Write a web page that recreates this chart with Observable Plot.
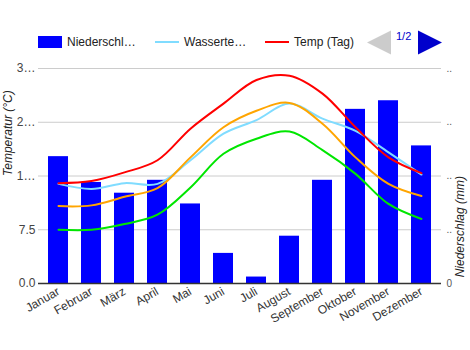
<!DOCTYPE html>
<html><head><meta charset="utf-8">
<script src="https://cdn.jsdelivr.net/npm/d3@7"></script>
<script src="https://cdn.jsdelivr.net/npm/@observablehq/plot@0.6"></script>
<style>
body{margin:0;background:#fff;font-family:"Liberation Sans",Arial,sans-serif;}
#wrap{position:relative;width:470px;height:350px;overflow:hidden;}
#legend{position:relative;height:60px;font-size:12px;color:#222;}
#legend .it{position:absolute;top:36px;height:12px;line-height:12px;white-space:nowrap;}
#legend svg{position:absolute;}
#chart svg{display:block;}
</style></head><body>
<div id="wrap"><div id="legend"></div><div id="chart"></div></div>
<script>
const months = ["Januar","Februar","März","April","Mai","Juni","Juli","August","September","Oktober","November","Dezember"];
const precipitation = [118, 94, 84, 96, 74, 28, 6, 44, 96, 162, 170, 128];
const tempDay = [14.0, 14.3, 15.5, 17.2, 21.6, 25.1, 28.4, 29.0, 26.5, 21.8, 17.6, 15.4];
const tempMean = [10.8, 10.9, 12.1, 13.3, 17.6, 21.8, 24.1, 25.2, 22.3, 17.6, 13.9, 12.2];
const waterTemp = [13.9, 13.2, 14.0, 13.9, 17.2, 20.9, 22.8, 25.1, 23.0, 21.3, 18.3, 15.2];
const tempNight = [7.5, 7.5, 8.3, 9.6, 13.4, 18.1, 20.2, 21.2, 18.6, 15.3, 11.1, 9.0];
const seriesNames = ["Wassertemperatur", "Temp (Tag)", "Temp (Durchschnitt)", "Temp (Nacht)"];
const seriesColors = ["#80dcff", "#ff0000", "#ffa500", "#00e600"];
const tempTicks = [0, 7.5, 15, 22.5, 30];
const tempTickLabels = ["0.0", "7.5", "1…", "2…", "3…"];
const precipTicks = [0, 50, 100, 150, 200];
const precipTickLabels = ["0", "..", "..", "..", ".."];
const legendLabels = ["Niederschl…", "Wasserte…", "Temp (Tag)"];
const pageLabel = "1/2";

const k = 30 / 200; // mm -> temperature units (dual axis)
const bars = months.map((m, i) => ({month: m, p: precipitation[i] * k}));
const seriesValues = [waterTemp, tempDay, tempMean, tempNight];
const lines = seriesNames.flatMap((s, j) => months.map((m, i) => ({month: m, value: seriesValues[j][i], series: s})));
const leftMap = new Map(tempTicks.map((t, i) => [t, tempTickLabels[i]]));
const rightMap = new Map(precipTicks.map((t, i) => [t * k, precipTickLabels[i]]));

// legend
const lg = document.getElementById("legend");
const sw = [
  {x: 38, type: "rect", color: "#0000ff"},
  {x: 155, type: "line", color: seriesColors[0]},
  {x: 265, type: "line", color: seriesColors[1]}
];
sw.forEach((s, i) => {
  const svg = `<svg style="left:${s.x}px;top:36px" width="24" height="12">` +
    (s.type === "rect" ? `<rect width="24" height="12" fill="${s.color}"/>` : `<line x1="0" x2="24" y1="6" y2="6" stroke="${s.color}" stroke-width="2"/>`) + `</svg>`;
  lg.insertAdjacentHTML("beforeend", svg + `<div class="it" style="left:${s.x + 29}px">${legendLabels[i]}</div>`);
});
lg.insertAdjacentHTML("beforeend",
  `<svg style="left:366px;top:30px" width="26" height="25"><path d="M1,12.5L25,0.5L25,24.5Z" fill="#cccccc"/></svg>` +
  `<div style="position:absolute;left:396px;top:30px;font-size:11px;color:#0000cc">${pageLabel}</div>` +
  `<svg style="left:417px;top:30px" width="26" height="25"><path d="M1,0.5L25,12.5L1,24.5Z" fill="#0000cc"/></svg>`);

const chart = Plot.plot({
  width: 470, height: 290,
  marginTop: 8, marginBottom: 67, marginLeft: 38, marginRight: 29,
  style: {fontFamily: "Liberation Sans, Arial, sans-serif", fontSize: "12px", color: "#444", background: "white", overflow: "visible"},
  x: {domain: months, paddingInner: 0.4, paddingOuter: 0.2, axis: null},
  y: {domain: [0, 30], axis: null},
  color: {domain: seriesNames, range: seriesColors},
  marks: [
    Plot.gridY(tempTicks, {stroke: "#cccccc", strokeOpacity: 1}),
    Plot.barY(bars, {x: "month", y: "p", fill: "#0000ff"}),
    Plot.line(lines, {x: "month", y: "value", z: "series", stroke: "series", strokeWidth: 2, curve: "catmull-rom"}),
    Plot.ruleY([0], {stroke: "#333", strokeWidth: 1.5}),
    Plot.axisY(tempTicks, {anchor: "left", tickSize: 0, tickPadding: 3, tickFormat: d => leftMap.get(d), label: null, fill: "#444", fontSize: 12}),
    Plot.axisY(precipTicks.map(t => t * k), {anchor: "right", tickSize: 0, tickPadding: 5, tickFormat: d => rightMap.get(d), label: null, fill: "#555", fontSize: 10}),
    Plot.axisX(months, {tickRotate: -30, tickSize: 0, tickPadding: 7, label: null, fill: "#333", fontSize: 12}),
    Plot.text(["Temperatur (°C)"], {frameAnchor: "left", rotate: -90, dx: -30, fontStyle: "italic", fontSize: 12, fill: "#222"}),
    Plot.text(["Niederschlag (mm)"], {frameAnchor: "right", rotate: -90, dx: 19, fontStyle: "italic", fontSize: 12, fill: "#222"})
  ]
});
document.getElementById("chart").appendChild(chart);
</script>
</body></html>
